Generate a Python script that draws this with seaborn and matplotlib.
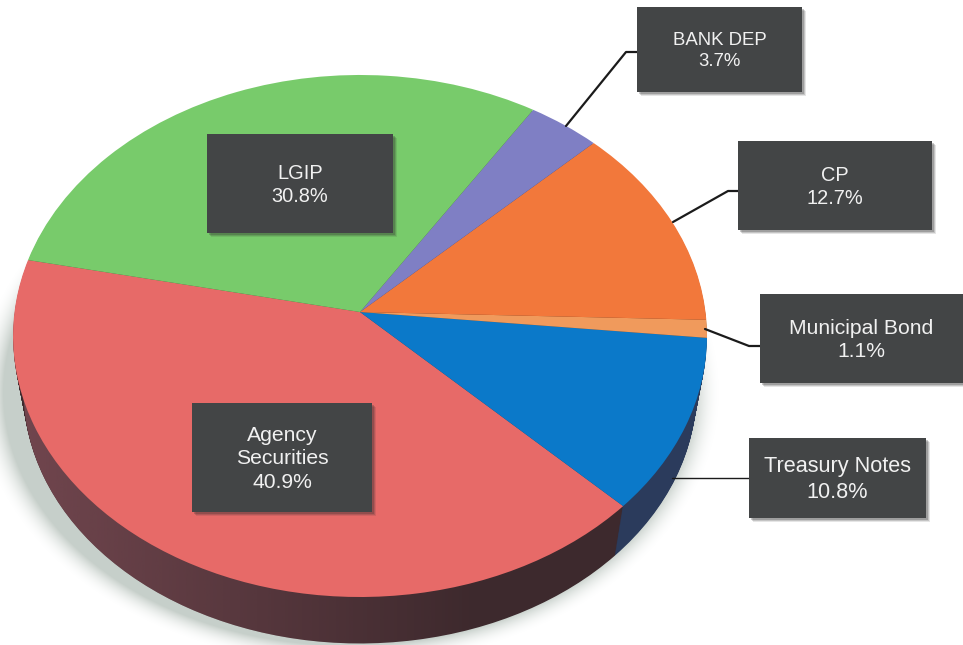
import numpy as np
import matplotlib
matplotlib.use("Agg")
import matplotlib.pyplot as plt
from matplotlib.colors import to_rgb
from matplotlib.patches import Rectangle
from matplotlib.transforms import Transform
import seaborn as sns

# data, in drawing order starting at the left edge
categories = ["Agency\nSecurities", "Treasury Notes", "Municipal Bond", "CP", "BANK DEP", "LGIP"]
shares = [40.9, 10.8, 1.1, 12.7, 3.7, 30.8]

top_colors = ["#e76a68", "#0b79c9", "#f09a5c", "#f2783b", "#7f7fc4", "#78cb6b"]
wall_colors = ["#3d292d", "#2b3b5c", "#6b4a30", "#6b3a20", "#3c3c60", "#3a6035"]

# label boxes in pixels: left, top, right, bottom, font size
boxes = [
    (192, 403, 372, 512, 15.2),
    (749, 438, 926, 518, 15.6),
    (760, 294, 963, 383, 15.2),
    (738, 141, 932, 230, 14.4),
    (637, 7, 802, 92, 13.4),
    (207, 134, 393, 233, 14.4),
]
# leader lines in pixels (LGIP and Agency sit on their slices)
leaders = [
    ([672, 749], [478, 478], 1.0),
    ([705, 749, 760], [329, 346, 346], 1.6),
    ([673, 728, 738], [222, 191, 191], 1.6),
    ([566, 626, 637], [126, 52, 52], 1.6),
]

W, H = 963, 645
CX, CY = 360, 312  # where the slices meet
PERSP = 0.0919
A, B = 345.5, 258.8
DEPTH, SHRINK = 55, 0.03
START = 168.2


class PieView(Transform):
    """Unit circle -> tilted disc in pixels; t goes 0 (top face) to 1 (bottom face)."""
    input_dims = 2
    output_dims = 2

    def __init__(self, t=0.0):
        super().__init__()
        self.t = t

    def transform_non_affine(self, xy):
        xy = np.asarray(xy)
        x, y = xy[:, 0], xy[:, 1]
        w = 1 + PERSP * y
        s = 1 - SHRINK * self.t
        return np.column_stack([CX + A * s * x / w, CY + DEPTH * self.t - B * s * y / w])


def draw_pie(ax, colors, t, zorder):
    wedges, _ = ax.pie(shares, colors=colors, startangle=START, radius=1,
                       wedgeprops={"linewidth": 0})
    for wedge in wedges:
        wedge.set_transform(PieView(t) + ax.transData)
        wedge.set_zorder(zorder)
    return wedges


sns.set_theme(style="white")
plt.rcParams["font.family"] = ["Liberation Sans", "DejaVu Sans"]

fig = plt.figure(figsize=(W / 100, H / 100), dpi=100, facecolor="white")
ax = fig.add_axes([0, 0, 1, 1])

# soft shadow under the disc
yy, xx = np.mgrid[0:H, 0:W]
r = np.sqrt(((xx - 348) / 345) ** 2 + ((yy - 392) / 253) ** 2)
shadow = np.zeros((H, W, 4))
shadow[..., :3] = (0.66, 0.71, 0.68)
shadow[..., 3] = np.clip((1.08 - r) / 0.08, 0, 1) ** 2 * 0.65
ax.imshow(shadow, extent=(0, W, H, 0), aspect="auto", zorder=0)

# side wall: stacked copies of the pie, then a lighter wash towards the left
wall_palette = sns.color_palette(wall_colors)
for t in np.linspace(1, 0.02, DEPTH):
    bottom = draw_pie(ax, wall_palette, t, 1)
    if t == 1:
        agency_wall = bottom[0]

wash = np.zeros((1, 256, 4))
wash[0, :, :3] = to_rgb("#a0606c")
wash[0, :, 3] = np.linspace(0.55, 0, 256)
im = ax.imshow(wash, extent=(0, 480, H, 300), aspect="auto", zorder=1.5)
im.set_clip_path(agency_wall.get_path(), agency_wall.get_transform())

draw_pie(ax, sns.color_palette(top_colors), 0, 2)

for xs, ys, lw in leaders:
    ax.plot(xs, ys, color="#1b1b1b", lw=lw, zorder=3, solid_capstyle="round")

for name, share, (left, top, right, bottom, size) in zip(categories, shares, boxes):
    for off, alpha in ((4, 0.12), (3, 0.18), (2, 0.25)):
        ax.add_patch(Rectangle((left + off, top + off), right - left, bottom - top,
                               facecolor="#303030", edgecolor="none", alpha=alpha, zorder=3.4,
                               clip_on=False))
    ax.add_patch(Rectangle((left, top), right - left, bottom - top,
                           facecolor="#434546", edgecolor="none", zorder=3.5))
    ax.text((left + right) / 2, (top + bottom) / 2 + 1.5, f"{name}\n{share}%",
            ha="center", va="center", color="#f1f1f1", fontsize=size,
            linespacing=1.3, zorder=4)

ax.set_aspect("auto")
ax.set_xlim(0, W)
ax.set_ylim(H, 0)
ax.axis("off")

fig.savefig("out.png", dpi=100, facecolor="white")
